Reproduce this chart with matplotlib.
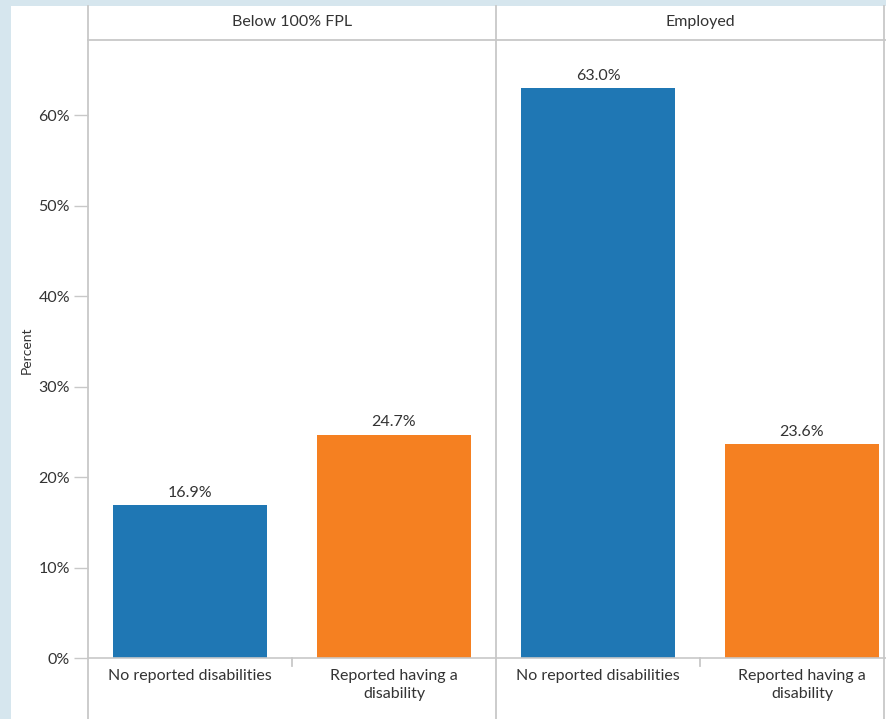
import matplotlib
matplotlib.use("Agg")
import matplotlib.pyplot as plt
from matplotlib.patches import Rectangle
from matplotlib.lines import Line2D

# data
panels = ["Below 100% FPL", "Employed"]
categories = ["No reported disabilities", "Reported having a\ndisability"]
values_fpl = [16.9, 24.7]
values_emp = [63.0, 23.6]
yticks = [0, 10, 20, 30, 40, 50, 60]
colors = ["#1f77b4", "#f58021"]

plt.rcParams["font.family"] = ["Lato", "DejaVu Sans"]
GRAY = "#c8c8c8"
TXT = "#333333"

W, H = 886, 719
fig = plt.figure(figsize=(W / 100, H / 100), dpi=100)
fig.patch.set_facecolor("#d6e6ee")

# white panel
fig.add_artist(Rectangle((11 / W, 0), 1, 1 - 6 / H, transform=fig.transFigure,
                         facecolor="white", edgecolor="none", zorder=0))

base_y = 658
top_y = 40
pane_w = 408
lefts = [88, 496]

for i, (name, vals) in enumerate(zip(panels, [values_fpl, values_emp])):
    x0 = lefts[i]
    ax = fig.add_axes([x0 / W, (H - base_y) / H, pane_w / W, (base_y - top_y) / H])
    ax.set_facecolor("none")
    ax.bar([0, 1], vals, width=0.755, color=colors, zorder=2)
    for xi, v in enumerate(vals):
        ax.text(xi, v + 0.6, f"{v:.1f}%", ha="center", va="bottom",
                fontsize=11.5, color=TXT)
    ax.set_xlim(-0.5, 1.5)
    ax.set_ylim(0, 68.3)
    ax.set_xticks([0, 1])
    ax.set_xticklabels(categories, fontsize=11.5, color=TXT, linespacing=1.35)
    ax.tick_params(axis="x", length=0, pad=8)
    for s in ["top", "right", "left"]:
        ax.spines[s].set_visible(False)
    ax.spines["bottom"].set_color(GRAY)
    ax.spines["bottom"].set_linewidth(1.2)
    if i == 0:
        ax.set_yticks(yticks)
        ax.set_yticklabels([f"{t}%" for t in yticks], fontsize=11.5, color=TXT)
        ax.tick_params(axis="y", length=10, color=GRAY, width=1, pad=3)
    else:
        ax.set_yticks([])
    # header text
    fig.text((x0 + pane_w / 2) / W, (H - 22) / H, name, ha="center", va="center",
             fontsize=11.5, color=TXT)

fig.text(27 / W, (H - 350) / H, "Percent", rotation=90, ha="center", va="center",
         fontsize=10, color=TXT)

# frame lines
lw = 1.3
fig.add_artist(Line2D([88 / W, 1], [(H - top_y) / H] * 2, color=GRAY, lw=lw,
                      transform=fig.transFigure))
for xv in [88, 496, 884]:
    fig.add_artist(Line2D([xv / W] * 2, [0, (H - 6) / H], color=GRAY, lw=lw,
                          transform=fig.transFigure))
# x category separator ticks
for xv in [292, 700]:
    fig.add_artist(Line2D([xv / W] * 2, [(H - base_y) / H, (H - base_y - 8) / H],
                          color=GRAY, lw=lw, transform=fig.transFigure))

fig.savefig("out.png", dpi=100, facecolor=fig.get_facecolor())
